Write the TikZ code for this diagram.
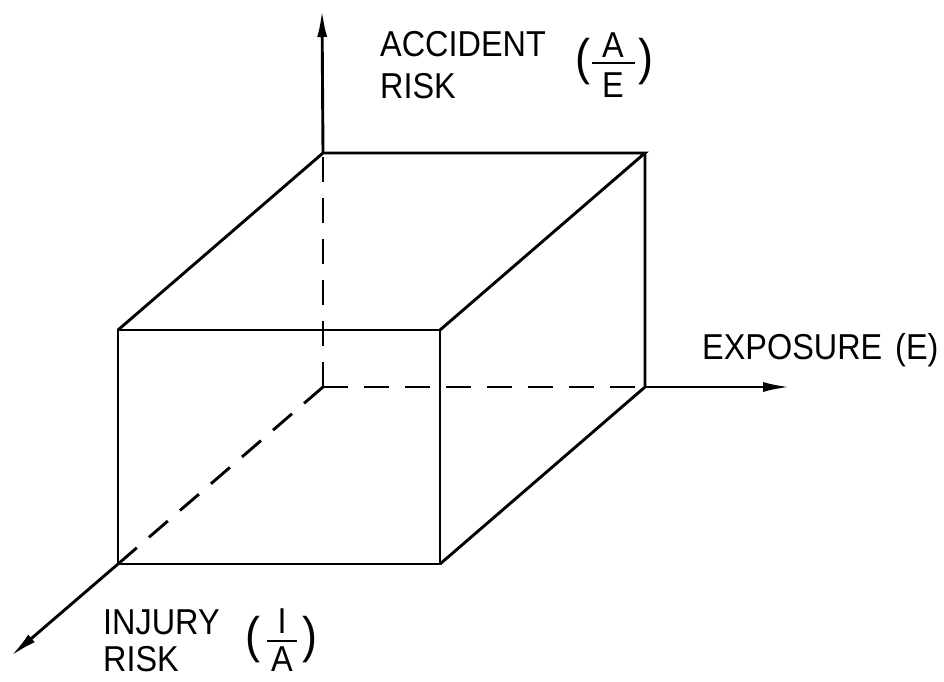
\documentclass[tikz,border=0pt]{standalone}
\usepackage{fontspec}
\setmainfont{Liberation Sans}[FakeStretch=0.9]
\usetikzlibrary{arrows.meta}
\begin{document}
\begin{tikzpicture}[x=1pt,y=-1pt,
  edge/.style={line width=2.9pt, line join=miter, black},
  hidden/.style={line width=2.9pt, dash pattern=on 25pt off 16pt, black},
  axis/.style={line width=2.9pt, black, -{Latex[length=27pt,width=10pt]}},
  lbl/.style={font=\fontsize{36}{40}\selectfont, inner sep=0pt, anchor=base west},
  frac/.style={font=\fontsize{36}{40}\selectfont, inner sep=0pt, anchor=base},
  paren/.style={font=\fontsize{50}{55}\selectfont, inner sep=0pt, anchor=center},
  bar/.style={line width=2.2pt, black}]
\useasboundingbox (0,0) rectangle (944,681);
% corners
\coordinate (O) at (323,387);
\coordinate (T) at (323,153);
\coordinate (BRT) at (645,153);
\coordinate (BRB) at (645,387);
\coordinate (FTL) at (118,330);
\coordinate (FTR) at (440,330);
\coordinate (FBL) at (118,564);
\coordinate (FBR) at (440,564);
% axis tips
\coordinate (Vtip) at (322,10);
\coordinate (Etip) at (790,387);
\coordinate (Itip) at (11,656);
% hidden lines
\draw[hidden] (O) -- (T);
\draw[hidden] (O) -- (BRB);
\draw[hidden] (O) -- (FBL);
% visible edges
\draw[edge] (FTL) -- (FTR) -- (FBR) -- (FBL) -- cycle;
\draw[edge] (FTL) -- (T) -- (BRT) -- (FTR);
\draw[edge] (BRT) -- (BRB) -- (FBR);
% axes
\draw[axis] (T) -- (Vtip);
\draw[axis] (BRB) -- (Etip);
\draw[axis] (FBL) -- (Itip);
% labels
\node[lbl] (acc) at (380,56) {ACCIDENT};
\node[lbl] (accr) at (380,98) {RISK};
\node[paren] (ap1) at (583,62) {(};
\node[paren] (ap2) at (646,62) {)};
\node[frac] (aA) at (613,57) {A};
\node[frac] (aE) at (613,97) {E};
\coordinate (ab1) at (592,63);
\coordinate (ab2) at (635,63);
\draw[bar] (ab1) -- (ab2);
\node[lbl] (exp) at (702,359) {EXPOSURE\hspace{4pt} (E)};
\node[lbl] (inj) at (103,634) {INJURY};
\node[lbl] (injr) at (103,671) {RISK};
\node[paren] (ip1) at (253,640) {(};
\node[paren] (ip2) at (310,640) {)};
\node[frac] (iI) at (282,633) {I};
\node[frac] (iA) at (282,671) {A};
\coordinate (ib1) at (267,641);
\coordinate (ib2) at (297,641);
\draw[bar] (ib1) -- (ib2);
\end{tikzpicture}
\end{document}
